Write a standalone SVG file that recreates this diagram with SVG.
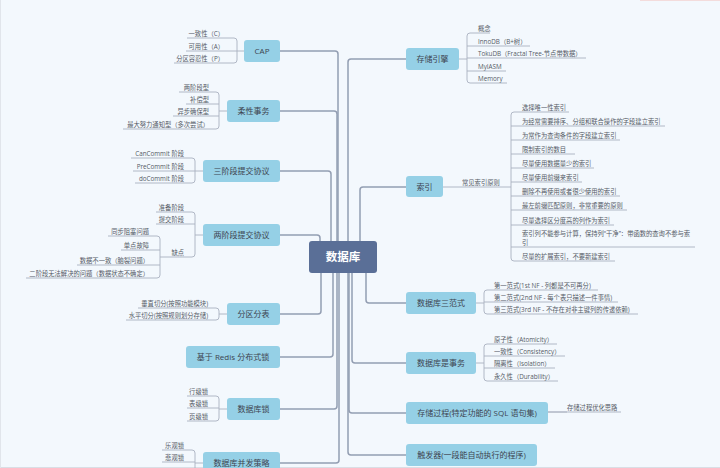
<svg xmlns="http://www.w3.org/2000/svg" width="720" height="468" viewBox="0 0 720 468">
<style>
.bg{fill:#F3F8FD}
.n{fill:#95D0E6}
.nt{font-family:"Open Sans","Noto Sans CJK SC",sans-serif;font-size:8px;fill:#3d4450;text-anchor:middle}
.st{font-family:"Open Sans","Noto Sans CJK SC",sans-serif;font-size:6.3px;fill:#555b66}
.l{text-anchor:end}
.ul{stroke:#A9B1C0;stroke-width:0.9;fill:none}
.c{stroke:#939EB2;stroke-width:1.5;fill:none}
.b{stroke:#A9B1C0;stroke-width:0.9;fill:none}
</style>
<rect class="bg" x="0" y="0" width="720" height="468"/>
<rect x="0" y="467" width="720" height="1" fill="#D9DEE5"/>
<rect x="0" y="0" width="1" height="468" fill="#E1E5EB"/>
<rect x="640" y="0" width="80" height="1" fill="#F3DCDC"/>

<g id="connectors">
<path class="c" d="M280,51 H335 Q338,51 338,54 V241"/>
<path class="c" d="M280,111 H334 Q337,111 337,114 V241"/>
<path class="c" d="M280,171 H328 Q331,171 331,174 V241"/>
<path class="c" d="M280,235 H317 Q320,235 320,238 V241"/>
<path class="c" d="M406,59 H351 Q348,59 348,62 V241"/>
<path class="c" d="M406,187 H363 Q360,187 360,190 V241"/>
<path class="c" d="M321,273 V311 Q321,314 318,314 H280"/>
<path class="c" d="M333,273 V354 Q333,357 330,357 H280"/>
<path class="c" d="M337,273 V406 Q337,409 334,409 H280"/>
<path class="c" d="M339,273 V460 Q339,463 336,463 H280"/>
<path class="c" d="M366,273 V300 Q366,303 369,303 H406"/>
<path class="c" d="M352,273 V360 Q352,363 355,363 H406"/>
<path class="c" d="M349,273 V410 Q349,413 352,413 H406"/>
<path class="c" d="M348,273 V452 Q348,455 351,455 H406"/>
<!-- sub brackets left -->
<path class="b" d="M234,38 Q237,38 237,41 V60 Q237,63 234,63 M237,51 H244"/>
<path class="b" d="M216,92 Q219,92 219,95 V126 Q219,129 216,129 M219,111 H227"/>
<path class="b" d="M192,158 Q195,158 195,161 V180 Q195,183 192,183 M195,171 H203"/>
<path class="b" d="M192,212 Q195,212 195,215 V254 Q195,257 192,257 M195,235 H203"/>
<path class="b" d="M157,236 Q160,236 160,239 V275 Q160,278 157,278 M160,257 H168"/>
<path class="b" d="M216,308 Q219,308 219,311 V317 Q219,320 216,320 M219,314 H227"/>
<path class="b" d="M216,396 Q219,396 219,399 V418 Q219,421 216,421 M219,409 H227"/>
<path class="b" d="M192,450 Q195,450 195,453 V472 Q195,475 192,475 M195,463 H203"/>
<path class="b" d="M162,475 H192"/>
<!-- sub brackets right -->
<path class="b" d="M470,33 Q467,33 467,36 V80 Q467,83 470,83 M459,59 H467"/>
<path class="b" d="M443,187 H511"/>
<path class="b" d="M514,112 Q511,112 511,115 V258 Q511,261 514,261"/>
<path class="b" d="M487,290 Q484,290 484,293 V311 Q484,314 487,314 M476,303 H484"/>
<path class="b" d="M487,344 Q484,344 484,347 V378 Q484,381 487,381 M476,363 H484"/>
<path class="b" d="M548,412 H567"/>
</g>

<g id="center">
<rect x="309" y="241" width="68" height="32" rx="3" fill="#5A6F97"/>
<text x="343" y="261.2" font-family="'Open Sans','Noto Sans CJK SC',sans-serif" font-size="11.5" font-weight="bold" fill="#ffffff" text-anchor="middle">数据库</text>
</g>

<!-- Left main nodes -->
<g id="cap">
<rect class="n" x="244" y="40" width="36" height="22" rx="3"/>
<text class="nt" x="262" y="54">CAP</text>
</g>
<g id="cap-c"><line class="ul" x1="187" y1="38" x2="234" y2="38"/><text class="st l" x="224" y="36.3">一致性（C）</text></g>
<g id="cap-a"><line class="ul" x1="186" y1="51" x2="237" y2="51"/><text class="st l" x="224" y="49.3">可用性（A）</text></g>
<g id="cap-p"><line class="ul" x1="174" y1="63" x2="234" y2="63"/><text class="st l" x="224" y="61.3">分区容忍性（P）</text></g>

<g id="flex-tx">
<rect class="n" x="227" y="100" width="53" height="22" rx="3"/>
<text class="nt" x="253.5" y="114">柔性事务</text>
</g>
<g id="flex-1"><line class="ul" x1="179" y1="92" x2="216" y2="92"/><text class="st l" x="209" y="90.3">两阶段型</text></g>
<g id="flex-2"><line class="ul" x1="186" y1="104" x2="219" y2="104"/><text class="st l" x="209" y="102.3">补偿型</text></g>
<g id="flex-3"><line class="ul" x1="173" y1="116" x2="219" y2="116"/><text class="st l" x="209" y="114.3">异步确保型</text></g>
<g id="flex-4"><line class="ul" x1="123" y1="129" x2="216" y2="129"/><text class="st l" x="209" y="127.3">最大努力通知型（多次尝试）</text></g>

<g id="three-pc">
<rect class="n" x="203" y="160" width="77" height="22" rx="3"/>
<text class="nt" x="241.5" y="174">三阶段提交协议</text>
</g>
<g id="tpc-1"><line class="ul" x1="131" y1="158" x2="192" y2="158"/><text class="st l" x="184" y="156.3">CanCommit 阶段</text></g>
<g id="tpc-2"><line class="ul" x1="133" y1="171" x2="195" y2="171"/><text class="st l" x="184" y="169.3">PreCommit 阶段</text></g>
<g id="tpc-3"><line class="ul" x1="135" y1="183" x2="192" y2="183"/><text class="st l" x="184" y="181.3">doCommit 阶段</text></g>

<g id="two-pc">
<rect class="n" x="203" y="224" width="77" height="22" rx="3"/>
<text class="nt" x="241.5" y="238">两阶段提交协议</text>
</g>
<g id="2pc-1"><line class="ul" x1="156" y1="212" x2="192" y2="212"/><text class="st l" x="184" y="210.3">准备阶段</text></g>
<g id="2pc-2"><line class="ul" x1="156" y1="224" x2="195" y2="224"/><text class="st l" x="184" y="222.3">提交阶段</text></g>
<g id="2pc-3"><line class="ul" x1="168" y1="257" x2="192" y2="257"/><text class="st l" x="184" y="255.3">缺点</text></g>
<g id="2pc-d1"><line class="ul" x1="108" y1="236" x2="157" y2="236"/><text class="st l" x="149" y="234.3">同步阻塞问题</text></g>
<g id="2pc-d2"><line class="ul" x1="121" y1="250" x2="160" y2="250"/><text class="st l" x="149" y="248.3">单点故障</text></g>
<g id="2pc-d3"><line class="ul" x1="77" y1="265" x2="160" y2="265"/><text class="st l" x="149" y="263.3">数据不一致（脑裂问题）</text></g>
<g id="2pc-d4"><line class="ul" x1="26" y1="278" x2="157" y2="278"/><text class="st l" x="149" y="276.3">二阶段无法解决的问题（数据状态不确定）</text></g>

<g id="sharding">
<rect class="n" x="227" y="303" width="53" height="22" rx="3"/>
<text class="nt" x="253.5" y="317">分区分表</text>
</g>
<g id="shard-1"><line class="ul" x1="138" y1="308" x2="216" y2="308"/><text class="st l" x="208" y="306.3">垂直切分(按照功能模块)</text></g>
<g id="shard-2"><line class="ul" x1="126" y1="320" x2="216" y2="320"/><text class="st l" x="208" y="318.3">水平切分(按照规则划分存储)</text></g>

<g id="redis-lock">
<rect class="n" x="186" y="346" width="94" height="22" rx="3"/>
<text class="nt" x="233" y="360">基于 Redis 分布式锁</text>
</g>

<g id="db-lock">
<rect class="n" x="227" y="398" width="53" height="22" rx="3"/>
<text class="nt" x="253.5" y="412">数据库锁</text>
</g>
<g id="lock-1"><line class="ul" x1="187" y1="396" x2="216" y2="396"/><text class="st l" x="208" y="394.3">行级锁</text></g>
<g id="lock-2"><line class="ul" x1="187" y1="408" x2="219" y2="408"/><text class="st l" x="208" y="406.3">表级锁</text></g>
<g id="lock-3"><line class="ul" x1="187" y1="421" x2="216" y2="421"/><text class="st l" x="208" y="419.3">页级锁</text></g>

<g id="concurrency">
<rect class="n" x="203" y="452" width="77" height="22" rx="3"/>
<text class="nt" x="241.5" y="466">数据库并发策略</text>
</g>
<g id="conc-1"><line class="ul" x1="162" y1="450" x2="192" y2="450"/><text class="st l" x="184" y="448.3">乐观锁</text></g>
<g id="conc-2"><line class="ul" x1="162" y1="462" x2="195" y2="462"/><text class="st l" x="184" y="460.3">悲观锁</text></g>

<!-- Right main nodes -->
<g id="engine">
<rect class="n" x="406" y="48" width="53" height="22" rx="3"/>
<text class="nt" x="432.5" y="62">存储引擎</text>
</g>
<g id="eng-1"><line class="ul" x1="470" y1="33" x2="490" y2="33"/><text class="st" x="478" y="31.3">概念</text></g>
<g id="eng-2"><line class="ul" x1="467" y1="46" x2="530" y2="46"/><text class="st" x="478" y="44.3">InnoDB（B+树）</text></g>
<g id="eng-3"><line class="ul" x1="467" y1="58" x2="586" y2="58"/><text class="st" x="478" y="56.3">TokuDB（Fractal Tree-节点带数据）</text></g>
<g id="eng-4"><line class="ul" x1="467" y1="71" x2="506" y2="71"/><text class="st" x="478" y="69.3">MyIASM</text></g>
<g id="eng-5"><line class="ul" x1="470" y1="83" x2="507" y2="83"/><text class="st" x="478" y="81.3">Memory</text></g>

<g id="index">
<rect class="n" x="406" y="176" width="37" height="21" rx="3"/>
<text class="nt" x="424.5" y="189.5">索引</text>
</g>
<g id="idx-rule"><text class="st" x="462" y="184.6">常见索引原则</text></g>
<g id="idx-1"><line class="ul" x1="514" y1="112" x2="569" y2="112"/><text class="st" x="522" y="110.3">选择唯一性索引</text></g>
<g id="idx-2"><line class="ul" x1="511" y1="126" x2="665" y2="126"/><text class="st" x="522" y="124.3">为经常需要排序、分组和联合操作的字段建立索引</text></g>
<g id="idx-3"><line class="ul" x1="511" y1="140" x2="620" y2="140"/><text class="st" x="522" y="138.3">为常作为查询条件的字段建立索引</text></g>
<g id="idx-4"><line class="ul" x1="511" y1="154" x2="575" y2="154"/><text class="st" x="522" y="152.3">限制索引的数目</text></g>
<g id="idx-5"><line class="ul" x1="511" y1="168" x2="594" y2="168"/><text class="st" x="522" y="166.3">尽量使用数据量少的索引</text></g>
<g id="idx-6"><line class="ul" x1="511" y1="182" x2="582" y2="182"/><text class="st" x="522" y="180.3">尽量使用前缀来索引</text></g>
<g id="idx-7"><line class="ul" x1="511" y1="196" x2="620" y2="196"/><text class="st" x="522" y="194.3">删除不再使用或者很少使用的索引</text></g>
<g id="idx-8"><line class="ul" x1="511" y1="210" x2="627" y2="210"/><text class="st" x="522" y="208.3">最左前缀匹配原则，非常重要的原则</text></g>
<g id="idx-9"><line class="ul" x1="511" y1="225" x2="614" y2="225"/><text class="st" x="522" y="223.3">尽量选择区分度高的列作为索引</text></g>
<g id="idx-10"><line class="ul" x1="511" y1="247" x2="695" y2="247"/><text class="st" x="522" y="235.5">索引列不能参与计算，保持列“干净”：带函数的查询不参与索</text><text class="st" x="522" y="244.5">引</text></g>
<g id="idx-11"><line class="ul" x1="514" y1="261" x2="615" y2="261"/><text class="st" x="522" y="259.3">尽量的扩展索引，不要新建索引</text></g>

<g id="normal-forms">
<rect class="n" x="406" y="292" width="70" height="22" rx="3"/>
<text class="nt" x="441" y="306">数据库三范式</text>
</g>
<g id="nf-1"><line class="ul" x1="487" y1="290" x2="598" y2="290"/><text class="st" x="494" y="288.3">第一范式(1st NF  - 列都是不可再分)</text></g>
<g id="nf-2"><line class="ul" x1="484" y1="302" x2="618" y2="302"/><text class="st" x="494" y="300.3">第二范式(2nd NF - 每个表只描述一件事情)</text></g>
<g id="nf-3"><line class="ul" x1="487" y1="314" x2="638" y2="314"/><text class="st" x="494" y="312.3">第三范式(3rd NF - 不存在对非主键列的传递依赖)</text></g>

<g id="transaction">
<rect class="n" x="406" y="352" width="70" height="22" rx="3"/>
<text class="nt" x="441" y="366">数据库是事务</text>
</g>
<g id="tx-1"><line class="ul" x1="487" y1="344" x2="557" y2="344"/><text class="st" x="494" y="342.3">原子性（Atomicity）</text></g>
<g id="tx-2"><line class="ul" x1="484" y1="356" x2="565" y2="356"/><text class="st" x="494" y="354.3">一致性（Consistency）</text></g>
<g id="tx-3"><line class="ul" x1="484" y1="368" x2="555" y2="368"/><text class="st" x="494" y="366.3">隔离性（Isolation）</text></g>
<g id="tx-4"><line class="ul" x1="487" y1="381" x2="558" y2="381"/><text class="st" x="494" y="379.3">永久性（Durability）</text></g>

<g id="procedure">
<rect class="n" x="406" y="402" width="142" height="22" rx="3"/>
<text class="nt" x="477" y="416">存储过程(特定功能的 SQL 语句集)</text>
</g>
<g id="proc-1"><line class="ul" x1="548" y1="412" x2="621" y2="412"/><text class="st" x="567" y="410.3">存储过程优化思路</text></g>

<g id="trigger">
<rect class="n" x="406" y="444" width="131" height="22" rx="3"/>
<text class="nt" x="471.5" y="458">触发器(一段能自动执行的程序)</text>
</g>
</svg>
